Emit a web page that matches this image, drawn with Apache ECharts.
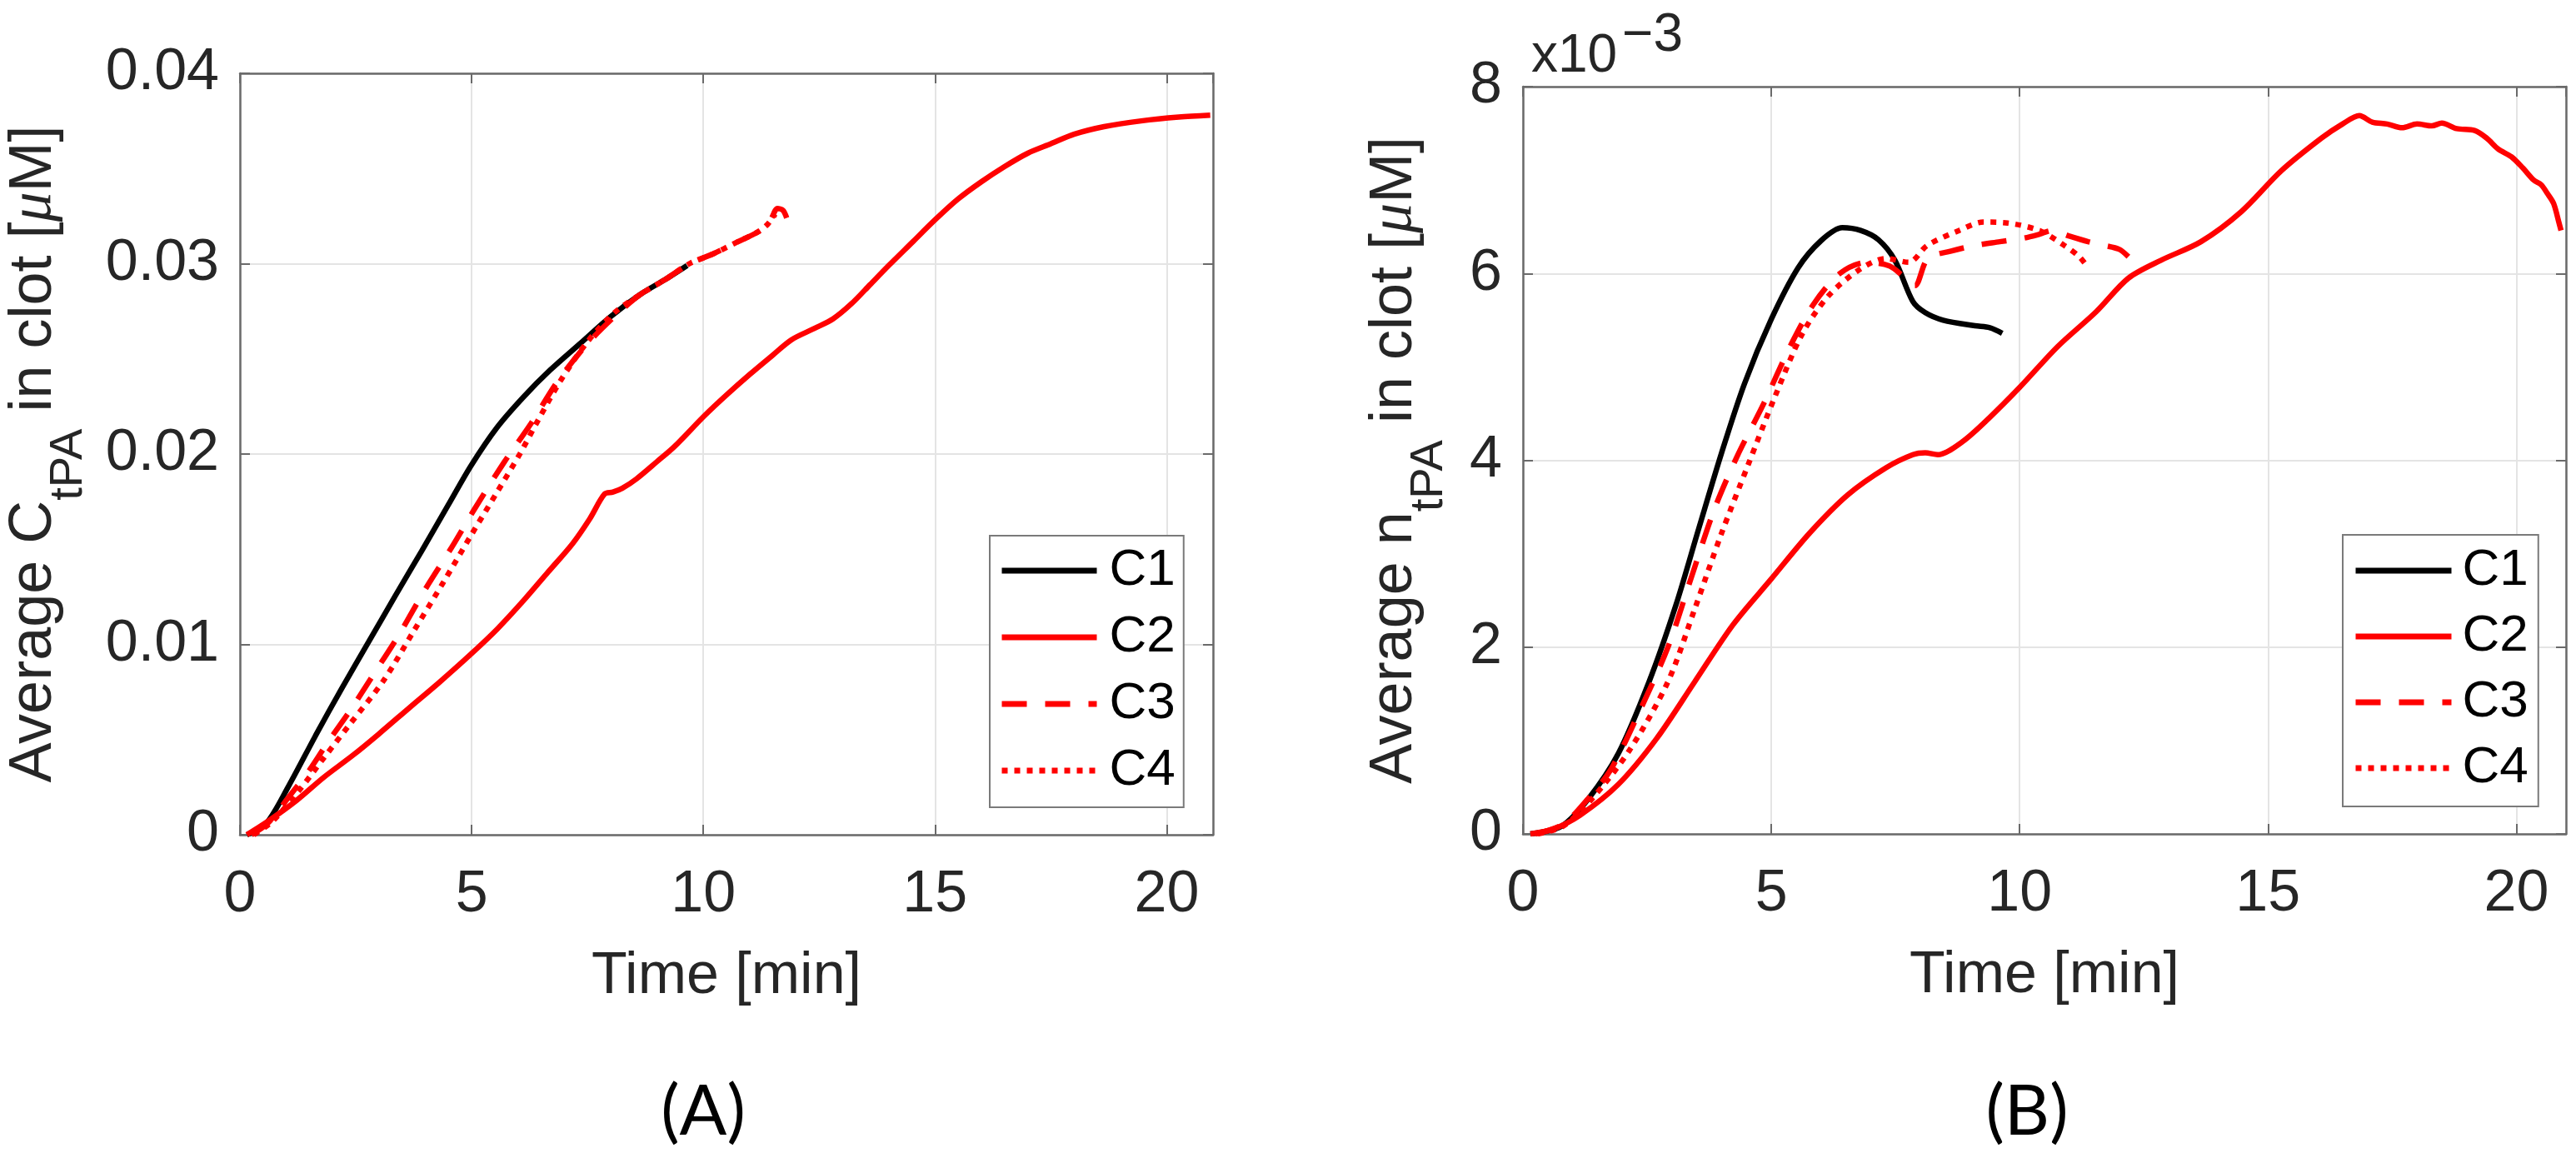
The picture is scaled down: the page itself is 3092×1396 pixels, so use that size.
<!DOCTYPE html>
<html><head><meta charset="utf-8">
<script src="https://cdn.jsdelivr.net/npm/echarts@6/dist/echarts.min.js"></script>
<style>html,body{margin:0;padding:0;background:#fff}#c{width:3092px;height:1396px}</style>
</head><body><div id="c"></div>
<script>
const seriesNames = ['C1', 'C2', 'C3', 'C4'];
const xTickLabels = [0, 5, 10, 15, 20];
const yTickLabelsA = ['0', '0.01', '0.02', '0.03', '0.04'];
const yTickLabelsB = ['0', '2', '4', '6', '8'];

// Panel A : average C_tPA [uM]
const tA_C1 = [0.15,0.57,1.06,1.63,2.2,2.77,3.34,3.92,4.49,4.99,5.55,6.12,6.69,7.34,7.99,8.65,9.2,9.65];
const vA_C1 = [0,0.0006,0.0026,0.0052,0.0077,0.0101,0.0125,0.0149,0.0173,0.0194,0.0214,0.023,0.0244,0.0258,0.0272,0.0284,0.0292,0.0299];
const tA_C2 = [0.15,0.6,1.22,1.8,2.45,3.0,3.67,4.3,4.99,5.55,6.12,6.65,7.18,7.55,7.87,8.05,8.25,8.56,9.0,9.38,10.02,10.5,11.01,11.5,11.9,12.4,12.8,13.2,13.6,14.0,14.5,15.0,15.5,16.0,16.5,17.0,17.5,18.0,18.65,19.45,20.26,20.94];
const vA_C2 = [0,0.0007,0.0018,0.003,0.0042,0.0053,0.0067,0.008,0.0095,0.0108,0.0123,0.0138,0.0153,0.0166,0.0179,0.018,0.0182,0.0187,0.0196,0.0204,0.022,0.0231,0.0242,0.0252,0.026,0.0266,0.0271,0.0279,0.0289,0.0299,0.0311,0.0323,0.0334,0.0343,0.0351,0.0358,0.0363,0.0368,0.0372,0.0375,0.0377,0.0378];
const tA_C3 = [0.25,0.6,1.06,1.5,1.88,2.4,2.85,3.43,4.0,4.57,5.06,5.71,6.28,6.85,7.5,8.16,8.65,9.2,9.7,10.2,10.7,11.2,11.45,11.6,11.72,11.8];
const vA_C3 = [0,0.0006,0.002,0.0034,0.0048,0.0066,0.0083,0.0105,0.0129,0.0151,0.0171,0.0196,0.0216,0.0238,0.0258,0.0274,0.0284,0.0292,0.03,0.0305,0.0311,0.0317,0.0323,0.0329,0.0328,0.0324];
const tA_C4 = [0.3,0.7,1.3,1.8,2.37,3.1,3.75,4.4,4.98,5.55,6.04,6.44,6.93,7.5,8.07,8.65,9.2,9.7,10.2,10.7,11.2,11.4,11.55];
const vA_C4 = [0,0.0007,0.0024,0.004,0.0058,0.0081,0.0107,0.0133,0.0157,0.018,0.02,0.0218,0.0239,0.0259,0.0274,0.0284,0.0292,0.03,0.0305,0.0311,0.0317,0.0321,0.0326];

// Panel B : average n_tPA [uM] (x10^-3)
const tB_C1 = [0.15,0.77,1.31,1.92,2.54,3.08,3.54,4.0,4.46,5.0,5.54,6.0,6.43,6.8,7.16,7.49,7.85,8.1,8.46,9.1,9.4,9.65];
const vB_C1 = [0,0.08,0.37,0.86,1.63,2.45,3.27,4.08,4.82,5.51,6.06,6.35,6.49,6.46,6.36,6.14,5.7,5.58,5.5,5.44,5.42,5.36];
const tB_C2 = [0.15,0.6,1.15,1.92,2.69,3.46,4.23,5.0,5.77,6.54,7.31,7.85,8.1,8.35,8.85,9.38,10.0,10.77,11.54,12.19,12.84,13.65,14.46,15.27,16.08,16.5,16.84,17.1,17.4,17.7,18.0,18.3,18.5,18.8,19.16,19.4,19.64,19.9,20.13,20.35,20.5,20.62,20.75,20.86,20.9];
const vB_C2 = [0,0.05,0.2,0.53,1.02,1.63,2.24,2.73,3.22,3.63,3.92,4.06,4.08,4.06,4.2,4.45,4.78,5.22,5.59,5.95,6.14,6.34,6.66,7.1,7.45,7.6,7.69,7.62,7.6,7.56,7.6,7.58,7.61,7.55,7.53,7.45,7.33,7.25,7.13,7.0,6.95,6.86,6.75,6.54,6.46];
const tB_C3 = [0.25,0.8,1.3,1.77,2.31,2.92,3.38,3.85,4.31,4.85,5.38,5.85,6.38,6.92,7.38,7.7,7.89,8.15,8.62,9.1,9.6,10.1,10.4,10.65,11.0,11.38,11.7,12.0,12.19];
const vB_C3 = [0,0.1,0.37,0.69,1.27,2.0,2.73,3.47,4.04,4.61,5.22,5.67,6.0,6.12,6.08,5.95,5.87,6.16,6.24,6.3,6.34,6.38,6.42,6.46,6.4,6.34,6.3,6.26,6.18];
const tB_C4 = [0.3,0.8,1.38,2.15,2.92,3.46,4.0,4.54,5.08,5.62,6.15,6.77,7.31,7.77,8.14,8.78,9.27,9.76,10.4,10.9,11.2,11.38];
const vB_C4 = [0,0.08,0.37,0.9,1.63,2.41,3.22,3.96,4.69,5.35,5.76,6.04,6.16,6.12,6.3,6.46,6.55,6.54,6.46,6.3,6.18,6.06];

const F = '"Liberation Sans", Arial, Helvetica, sans-serif';
const TXT = '#262626';
const AX = '#6a6a6a';
const zip = (t, v) => t.map((x, i) => [x, v[i]]);

const styles = [
  { color: '#000000', type: 'solid' },
  { color: '#ff0000', type: 'solid' },
  { color: '#ff0000', type: [30, 22] },
  { color: '#ff0000', type: [7, 8] }
];

function mkSeries(idx, tArr, vArr, k) {
  return {
    name: seriesNames[k], type: 'line', xAxisIndex: idx * 2, yAxisIndex: idx * 2,
    data: zip(tArr, vArr), symbol: 'none', smooth: 0.3,
    lineStyle: { color: styles[k].color, width: 6.5, type: styles[k].type, cap: 'butt' },
    itemStyle: { color: styles[k].color }, z: 2, silent: true
  };
}

function xAx(grid, bottom) {
  return {
    gridIndex: grid, type: 'value', min: 0, max: 21, interval: 5,
    position: bottom ? 'bottom' : 'top',
    axisLine: { show: true, onZero: false, lineStyle: { color: AX, width: 2.5 } },
    axisTick: { show: true, inside: true, length: 12, lineStyle: { color: AX, width: 2 } },
    axisLabel: bottom ? {
      show: true, fontSize: 70, lineHeight: 70, fontFamily: F, color: TXT, margin: 38,
      showMaxLabel: false, showMinLabel: true,
      formatter: v => (xTickLabels.indexOf(v) >= 0 ? String(v) : '')
    } : { show: false },
    splitLine: bottom ? { show: true, lineStyle: { color: '#e4e4e4', width: 2 } } : { show: false },
    name: bottom ? 'Time [min]' : '', nameLocation: 'middle', nameGap: 136,
    nameTextStyle: { fontSize: 70, lineHeight: 70, fontFamily: F, color: TXT },
    nameMoveOverlap: false
  };
}

function yAx(grid, left, max, interval, labels, name, gap) {
  return {
    gridIndex: grid, type: 'value', min: 0, max: max, interval: interval,
    position: left ? 'left' : 'right',
    axisLine: { show: true, onZero: false, lineStyle: { color: AX, width: 2.5 } },
    axisTick: { show: true, inside: true, length: 12, lineStyle: { color: AX, width: 2 } },
    axisLabel: left ? {
      show: true, fontSize: 70, fontFamily: F, color: TXT, margin: 25,
      formatter: v => labels[Math.round(v / interval)]
    } : { show: false },
    splitLine: left ? { show: true, lineStyle: { color: '#e4e4e4', width: 2 } } : { show: false },
    name: left ? name : '', nameLocation: 'middle', nameGap: gap, nameRotate: 90,
    nameMoveOverlap: false,
    nameTextStyle: {
      fontFamily: F, color: TXT, fontSize: 72,
      rich: {
        m: { fontSize: 72, fontFamily: F, color: TXT, lineHeight: 80, verticalAlign: 'top' },
        s: { fontSize: 56, fontFamily: F, color: TXT, padding: [50, 0, 0, 0], verticalAlign: 'top' },
        u: { fontSize: 72, fontFamily: '"Liberation Serif", "DejaVu Serif", serif', fontStyle: 'italic', color: TXT, lineHeight: 80, verticalAlign: 'top' }
      }
    }
  };
}

function mkLegend(left, top, padding, gap, itemW, textPad) {
  return {
    data: seriesNames, orient: 'vertical', left: left, top: top, padding: padding,
    itemGap: gap, itemWidth: itemW, itemHeight: 16, selectedMode: false,
    backgroundColor: '#ffffff', borderColor: '#7a7a7a', borderWidth: 2, borderRadius: 0,
    lineStyle: { width: 7 },
    itemStyle: { color: 'rgba(0,0,0,0)', borderWidth: 0, opacity: 0 },
    textStyle: { fontSize: 62, lineHeight: 62, fontFamily: F, color: '#000', padding: [0, 0, 0, textPad] }
  };
}

const chart = echarts.init(document.getElementById('c'), null, { renderer: 'canvas' });
chart.setOption({
  backgroundColor: '#ffffff',
  animation: false,
  grid: [
    { left: 288, top: 88, width: 1168, height: 914, outerBoundsMode: 'none', containLabel: false },
    { left: 1828, top: 104, width: 1252, height: 897, outerBoundsMode: 'none', containLabel: false }
  ],
  xAxis: [xAx(0, true), xAx(0, false), xAx(1, true), xAx(1, false)],
  yAxis: [
    yAx(0, true, 0.04, 0.01, yTickLabelsA, '{m|Average C}{s|tPA}{m| in clot [}{u|μ}{m|M]}', 177),
    yAx(0, false, 0.04, 0.01, yTickLabelsA, '', 0),
    yAx(1, true, 8, 2, yTickLabelsB, '{m|Average n}{s|tPA}{m| in clot [}{u|μ}{m|M]}', 84),
    yAx(1, false, 8, 2, yTickLabelsB, '', 0)
  ],
  legend: [
    mkLegend(1188, 643, [11, 10, 13, 11], 18, 114, 10),
    mkLegend(2812, 642, [12, 12, 15, 12], 17, 115, 8)
  ],
  series: [
    mkSeries(0, tA_C1, vA_C1, 0), mkSeries(0, tA_C2, vA_C2, 1),
    mkSeries(0, tA_C3, vA_C3, 2), mkSeries(0, tA_C4, vA_C4, 3),
    mkSeries(1, tB_C1, vB_C1, 0), mkSeries(1, tB_C2, vB_C2, 1),
    mkSeries(1, tB_C3, vB_C3, 2), mkSeries(1, tB_C4, vB_C4, 3)
  ],
  graphic: [
    { type: 'text', x: 844, y: 1335, style: { text: '(A)', fontSize: 84, fontFamily: 'Lato, "Open Sans", sans-serif', fill: '#000', align: 'center', verticalAlign: 'middle' } },
    { type: 'text', x: 2433, y: 1335, style: { text: '(B)', fontSize: 84, fontFamily: 'Lato, "Open Sans", sans-serif', fill: '#000', align: 'center', verticalAlign: 'middle' } },
    { type: 'text', x: 1838, y: 68, style: { text: 'x10', fontSize: 64, fontFamily: F, fill: TXT, align: 'left', verticalAlign: 'middle' } },
    { type: 'text', x: 1947, y: 43, style: { text: '\u22123', fontSize: 64, fontFamily: F, fill: TXT, align: 'left', verticalAlign: 'middle' } }
  ]
});
</script>
</body></html>
